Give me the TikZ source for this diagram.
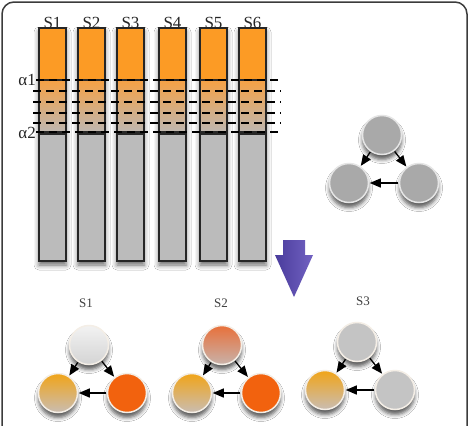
\documentclass[tikz,border=0pt]{standalone}
\usepackage{fontspec}
\setmainfont{Liberation Serif}
\usetikzlibrary{arrows.meta,shadows.blur}
\definecolor{barorange}{HTML}{FC9B25}
\definecolor{midorange}{HTML}{F5A145}
\definecolor{midgray}{HTML}{BEB7B0}
\definecolor{bargray}{HTML}{BBBBBB}
\definecolor{framegray}{HTML}{3C3C3C}
\definecolor{nodegray}{HTML}{A9A9A9}
\definecolor{lightgray}{HTML}{C4C4C4}
\definecolor{hot}{HTML}{F2620E}
\definecolor{warmtop}{HTML}{F0A418}
\definecolor{warmbot}{HTML}{C9BDB2}
\definecolor{pinktop}{HTML}{E8703A}
\definecolor{pinkbot}{HTML}{C8B2AA}
\definecolor{rim}{HTML}{F4EEE6}
\definecolor{arrowdark}{HTML}{4A3C9C}
\definecolor{arrowlight}{HTML}{7262C2}
\begin{document}
\begin{tikzpicture}[x=1pt,y=-1pt,
  softshadow/.style={blur shadow={shadow xshift=0pt,shadow yshift=-5pt,shadow blur radius=4pt,shadow opacity=65}},
  barshadow/.style={blur shadow={shadow xshift=0pt,shadow yshift=-4pt,shadow blur radius=5pt,shadow opacity=60}},
  barpart/.style={draw=black!85,line width=1.4pt},
  level/.style={draw=black,line width=1.3pt,dash pattern=on 8pt off 5pt},
  topname/.style={font=\fontsize{17}{17}\selectfont,text=black!85,inner sep=0pt},
  subname/.style={font=\fontsize{13}{13}\selectfont,text=black!75,inner sep=0pt},
  gnode/.style={circle,minimum size=39pt,inner sep=0pt,line width=1.5pt,softshadow},
  link/.style={-{Triangle[length=11pt,width=9pt]},line width=1.3pt,black,shorten >=0.5pt,shorten <=0.5pt}]
\useasboundingbox (0,0) rectangle (469,426);
\fill[white] (0,0) rectangle (469,426);

% outer frame, open at the bottom
\draw[framegray,line width=1.5pt,rounded corners=12pt] (2,440) -- (2,2) -- (467,2) -- (467,440);

% sample bars
\foreach \x/\n in {39/1,78/2,117/3,159/4,200/5,239/6}{
  \fill[bargray,barshadow] (\x,28) rectangle (\x+27,261);
  \filldraw[barpart,fill=barorange] (\x,28) rectangle (\x+27,80);
  \shade[top color=midorange,bottom color=midgray] (\x,80) rectangle (\x+27,132);
  \draw[barpart] (\x,80) rectangle (\x+27,132);
  \filldraw[barpart,fill=bargray] (\x,134) rectangle (\x+27,261);
  \node[topname,anchor=south] (s\n) at (\x+13.5,28.5) {S\n};
}

% threshold levels
\node[topname,anchor=east] (a1) at (36,80) {α1};
\node[topname,anchor=east] (a2) at (36,133) {α2};
\draw[level] (a1.east) -- (281,80);
\foreach \y in {91,102,113,123}{\draw[level] (33,\y) -- (281,\y);}
\draw[level] (a2.east |- 0,132) -- (281,132);

% reference network
\node[gnode,draw=black!10,fill=nodegray] (ga) at (382,135) {};
\node[gnode,draw=black!10,fill=nodegray] (gb) at (349,183) {};
\node[gnode,draw=black!10,fill=nodegray] (gc) at (419,183) {};
\draw[link] (ga) -- (gb);
\draw[link] (ga) -- (gc);
\draw[link] (gc) -- (gb);

% downward arrow
\shade[left color=arrowdark,right color=arrowlight]
  (283,240) -- (305,240) -- (305,255) -- (313,255) -- (294,297) -- (275,255) -- (283,255) -- cycle;

% per-sample networks
\node[subname] (n1) at (86,303) {S1};
\node[subname] (n2) at (221,303) {S2};
\node[subname] (n3) at (363,301) {S3};

\node[gnode,draw=rim,top color=white!95!black,bottom color=black!17] (p1) at (89,345) {};
\node[gnode,draw=rim,top color=warmtop,bottom color=warmbot] (q1) at (58,393) {};
\node[gnode,draw=rim,fill=hot] (r1) at (127,393) {};
\draw[link] (p1) -- (q1);
\draw[link] (p1) -- (r1);
\draw[link] (r1) -- (q1);

\node[gnode,draw=rim,top color=pinktop,bottom color=pinkbot] (p2) at (222,345) {};
\node[gnode,draw=rim,top color=warmtop,bottom color=warmbot] (q2) at (192,393) {};
\node[gnode,draw=rim,fill=hot] (r2) at (261,393) {};
\draw[link] (p2) -- (q2);
\draw[link] (p2) -- (r2);
\draw[link] (r2) -- (q2);

\node[gnode,draw=rim,fill=lightgray] (p3) at (357,342) {};
\node[gnode,draw=rim,top color=warmtop,bottom color=warmbot] (q3) at (325,390) {};
\node[gnode,draw=rim,fill=lightgray] (r3) at (395,390) {};
\draw[link] (p3) -- (q3);
\draw[link] (p3) -- (r3);
\draw[link] (r3) -- (q3);
\end{tikzpicture}
\end{document}
